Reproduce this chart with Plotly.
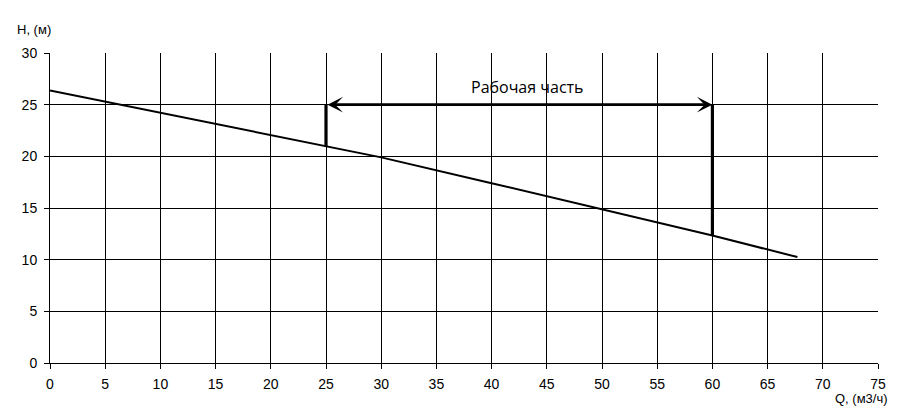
import plotly.graph_objects as go

# Pump curve Q-H
q_values = [0, 10, 20, 25, 30, 40, 50, 60, 67.7]
h_values = [26.37, 24.2, 22.1, 20.95, 19.9, 17.4, 14.9, 12.34, 10.25]

# Working range
work_q = [25, 60]
work_h_low = [20.95, 12.34]
work_h_top = 25
work_label = "Рабочая часть"

x_ticks = list(range(0, 80, 5))
y_ticks = list(range(0, 35, 5))

fig = go.Figure()

fig.add_trace(go.Scatter(x=q_values, y=h_values, mode="lines",
                         line=dict(color="black", width=2), hoverinfo="skip"))
for q, hl in zip(work_q, work_h_low):
    fig.add_trace(go.Scatter(x=[q, q], y=[hl, work_h_top], mode="lines",
                             line=dict(color="black", width=3.2), hoverinfo="skip"))

fig.add_annotation(x=work_q[1], y=work_h_top, ax=work_q[0], ay=work_h_top,
                   xref="x", yref="y", axref="x", ayref="y",
                   showarrow=True, arrowhead=3, startarrowhead=3, arrowside="end+start",
                   arrowwidth=2.6, arrowsize=1, startarrowsize=1, arrowcolor="black",
                   text="")
fig.add_annotation(x=(work_q[0] + work_q[1]) / 2, y=work_h_top, xref="x", yref="y",
                   text=work_label, showarrow=False, yshift=18, xshift=8,
                   font=dict(family="Open Sans, Lato, sans-serif", size=16, color="black"))

fig.add_annotation(x=0, y=1, xref="paper", yref="paper", xanchor="right", yanchor="bottom",
                   text="H, (м)", showarrow=False, xshift=3, yshift=14,
                   font=dict(family="Liberation Sans, Arial", size=13, color="black"))
fig.add_annotation(x=1, y=0, xref="paper", yref="paper", xanchor="right", yanchor="top",
                   text="Q, (м3/ч)", showarrow=False, xshift=12, yshift=-26,
                   font=dict(family="Liberation Sans, Arial", size=13, color="black"))

axis_common = dict(showgrid=True, gridcolor="black", gridwidth=1, zeroline=False,
                   showline=True, linecolor="black", linewidth=1,
                   ticks="outside", ticklen=5, tickcolor="black",
                   tickfont=dict(family="Liberation Sans, Arial", size=14, color="black"))

fig.update_xaxes(range=[0, 75], tickvals=x_ticks, ticklabelstandoff=3, **axis_common)
fig.update_yaxes(range=[0, 30], tickvals=y_ticks, ticklabelstandoff=4, **axis_common)

fig.update_layout(width=899, height=409, showlegend=False,
                  margin=dict(l=50, r=21, t=53, b=46),
                  plot_bgcolor="white", paper_bgcolor="white")

fig.write_html("out.html", config={"displayModeBar": False},
               post_script="document.body.style.margin='0';document.body.style.overflow='hidden';")
